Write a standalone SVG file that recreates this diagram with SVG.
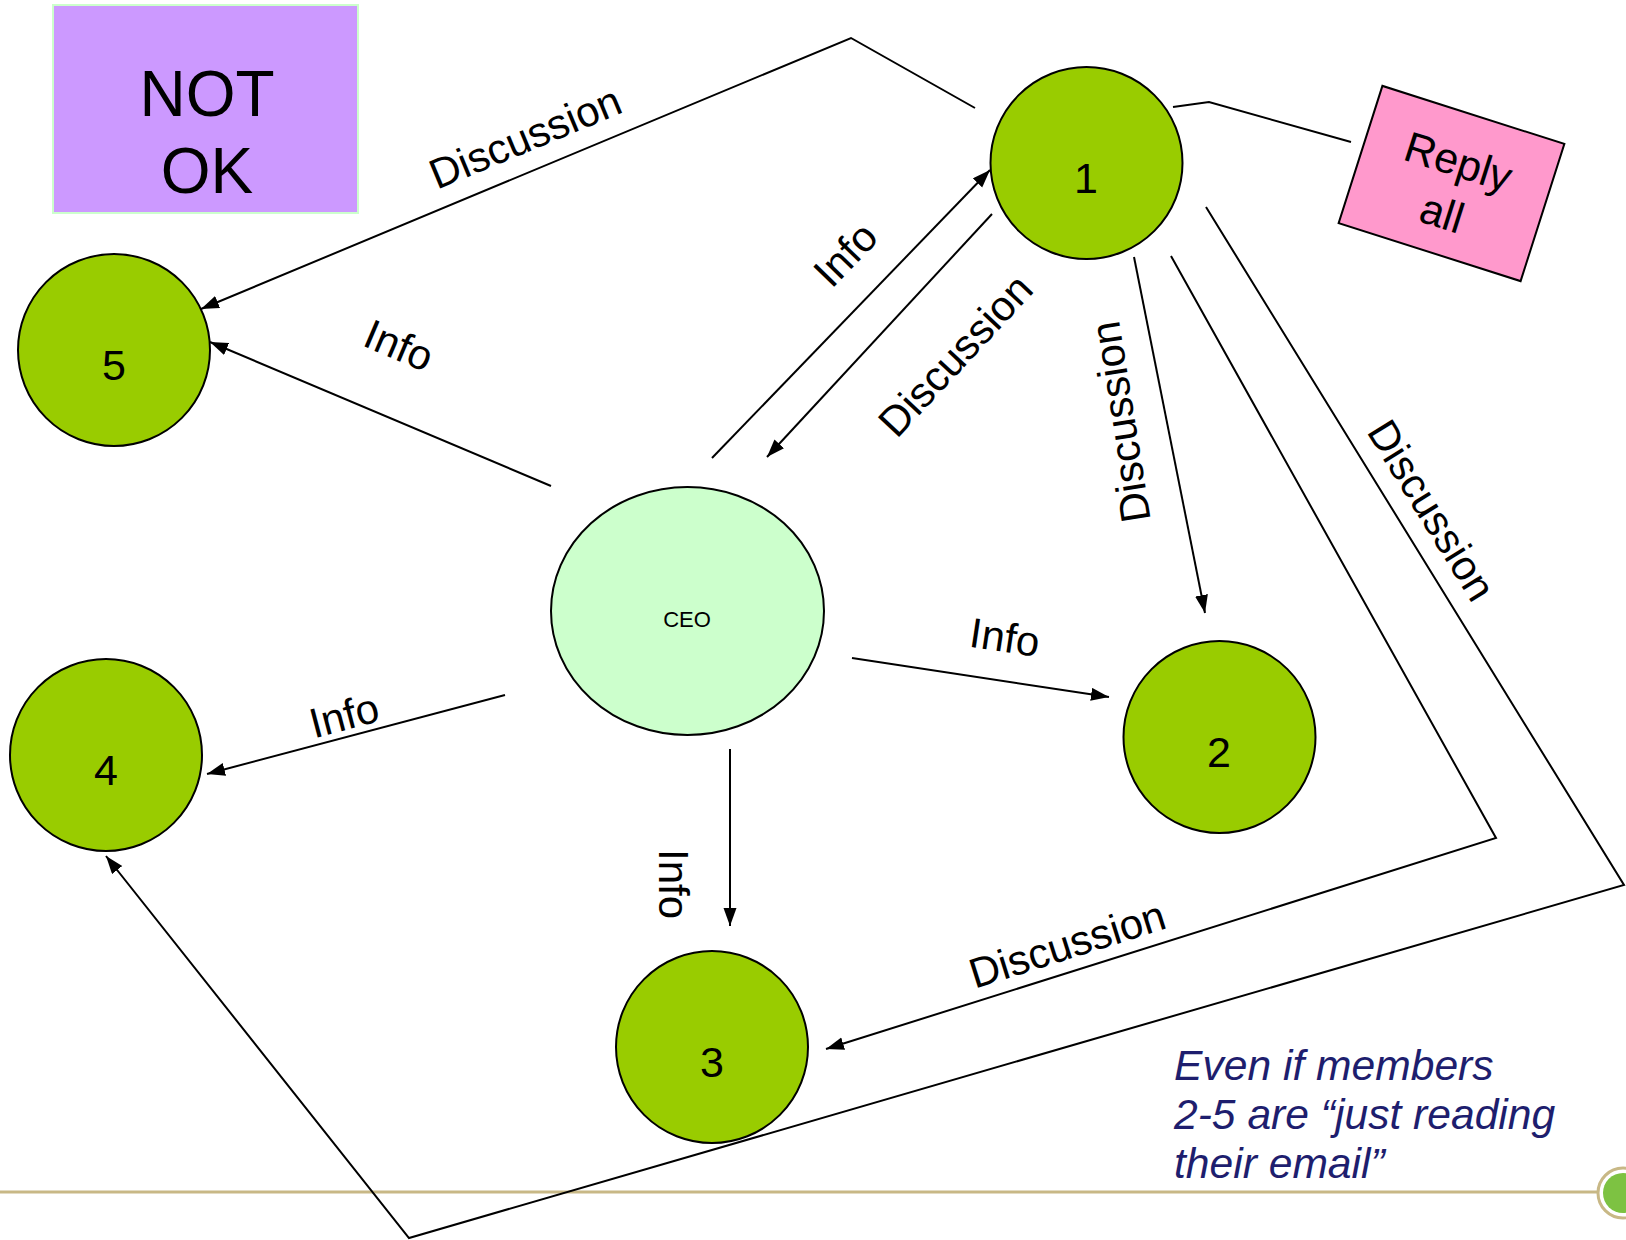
<svg xmlns="http://www.w3.org/2000/svg" width="1626" height="1240" viewBox="0 0 1626 1240">
<defs>
<marker id="ah" markerUnits="userSpaceOnUse" markerWidth="20" markerHeight="14" refX="18" refY="6.5" orient="auto">
<path d="M0,0 L18,6.5 L0,13 z" fill="#000"/>
</marker>
<style>
.ln{fill:none;stroke:#000;stroke-width:2}
.arr{marker-end:url(#ah)}
.nd{fill:#99CC00;stroke:#000;stroke-width:2}
.lb{font-family:"Liberation Sans",Arial,sans-serif;font-size:42px;fill:#000;text-anchor:middle}
.nt{font-family:"Liberation Sans",Arial,sans-serif;font-size:43px;fill:#000;text-anchor:middle}
.note{font-family:"Liberation Sans",Arial,sans-serif;font-size:42.6px;font-style:italic;fill:#1E1E6E}
</style>
</defs>
<rect width="1626" height="1240" fill="#fff"/>

<g id="footer">
<line x1="0" y1="1192" x2="1597" y2="1192" stroke="#C8B886" stroke-width="3"/>
<circle cx="1623" cy="1193" r="25" fill="#fff" stroke="#C8B886" stroke-width="3"/>
<circle cx="1623" cy="1193" r="20" fill="#7DC242"/>
</g>

<g id="connectors">
<polyline class="ln" points="975,108 851,38 201,309" marker-end="url(#ah)"/>
<line class="ln arr" x1="712" y1="458" x2="990" y2="170"/>
<line class="ln arr" x1="992" y1="214" x2="767" y2="457"/>
<line class="ln arr" x1="1134" y1="257" x2="1205" y2="613"/>
<polyline class="ln" points="1171,256 1496,838 826,1049" marker-end="url(#ah)"/>
<polyline class="ln" points="1206,207 1624,885 409,1238 106,856" marker-end="url(#ah)"/>
<line class="ln arr" x1="551" y1="486" x2="210" y2="342"/>
<line class="ln arr" x1="505" y1="695" x2="207" y2="774"/>
<line class="ln arr" x1="852" y1="658" x2="1109" y2="697"/>
<line class="ln arr" x1="730" y1="749" x2="730" y2="926"/>
<polyline class="ln" points="1173,107 1209,102 1351,142"/>
<text class="lb" transform="translate(525,137) rotate(-22.6)" y="15">Discussion</text>
<text class="lb" transform="translate(845,254) rotate(-46)" y="15">Info</text>
<text class="lb" transform="translate(955,355) rotate(-47)" y="15">Discussion</text>
<text class="lb" transform="translate(1120,422) rotate(-99)" y="15">Discussion</text>
<text class="lb" transform="translate(1432,510) rotate(58.3)" y="15">Discussion</text>
<text class="lb" transform="translate(1067,944) rotate(-17.5)" y="15">Discussion</text>
<text class="lb" transform="translate(399,345) rotate(23)" y="15">Info</text>
<text class="lb" transform="translate(344,715) rotate(-14.7)" y="15">Info</text>
<text class="lb" transform="translate(1005,637) rotate(8.6)" y="15">Info</text>
<text class="lb" transform="translate(674,884) rotate(90)" y="15">Info</text>
</g>

<g id="not-ok">
<rect x="53" y="5" width="305" height="208" fill="#CC99FF" stroke="#CCFFCC" stroke-width="2"/>
<text x="207" y="116" font-family="Liberation Sans, Arial, sans-serif" font-size="64" text-anchor="middle">NOT</text>
<text x="207" y="193" font-family="Liberation Sans, Arial, sans-serif" font-size="64" text-anchor="middle">OK</text>
</g>

<g id="reply-all" transform="translate(1451.5,183.5) rotate(17.7)">
<rect x="-95.5" y="-72" width="191" height="144" fill="#FF99CC" stroke="#000" stroke-width="2"/>
<text x="0" y="-8" class="nt">Reply</text>
<text x="0" y="46" class="nt">all</text>
</g>

<g id="ceo">
<ellipse cx="687.5" cy="611" rx="136.5" ry="124" fill="#CCFFCC" stroke="#000" stroke-width="2"/>
<text x="687" y="627" font-family="Liberation Sans, Arial, sans-serif" font-size="22" text-anchor="middle">CEO</text>
</g>

<g id="node-1">
<circle class="nd" cx="1086.5" cy="163" r="96"/>
<text class="nt" x="1086" y="193">1</text>
</g>
<g id="node-2">
<circle class="nd" cx="1219.5" cy="737" r="96"/>
<text class="nt" x="1219" y="767">2</text>
</g>
<g id="node-3">
<circle class="nd" cx="712" cy="1047" r="96"/>
<text class="nt" x="712" y="1077">3</text>
</g>
<g id="node-4">
<circle class="nd" cx="106" cy="755" r="96"/>
<text class="nt" x="106" y="785">4</text>
</g>
<g id="node-5">
<circle class="nd" cx="114" cy="350" r="96"/>
<text class="nt" x="114" y="380">5</text>
</g>

<g id="note">
<text class="note" x="1174" y="1080">Even if members</text>
<text class="note" x="1174" y="1129">2-5 are “just reading</text>
<text class="note" x="1174" y="1178">their email”</text>
</g>
</svg>
